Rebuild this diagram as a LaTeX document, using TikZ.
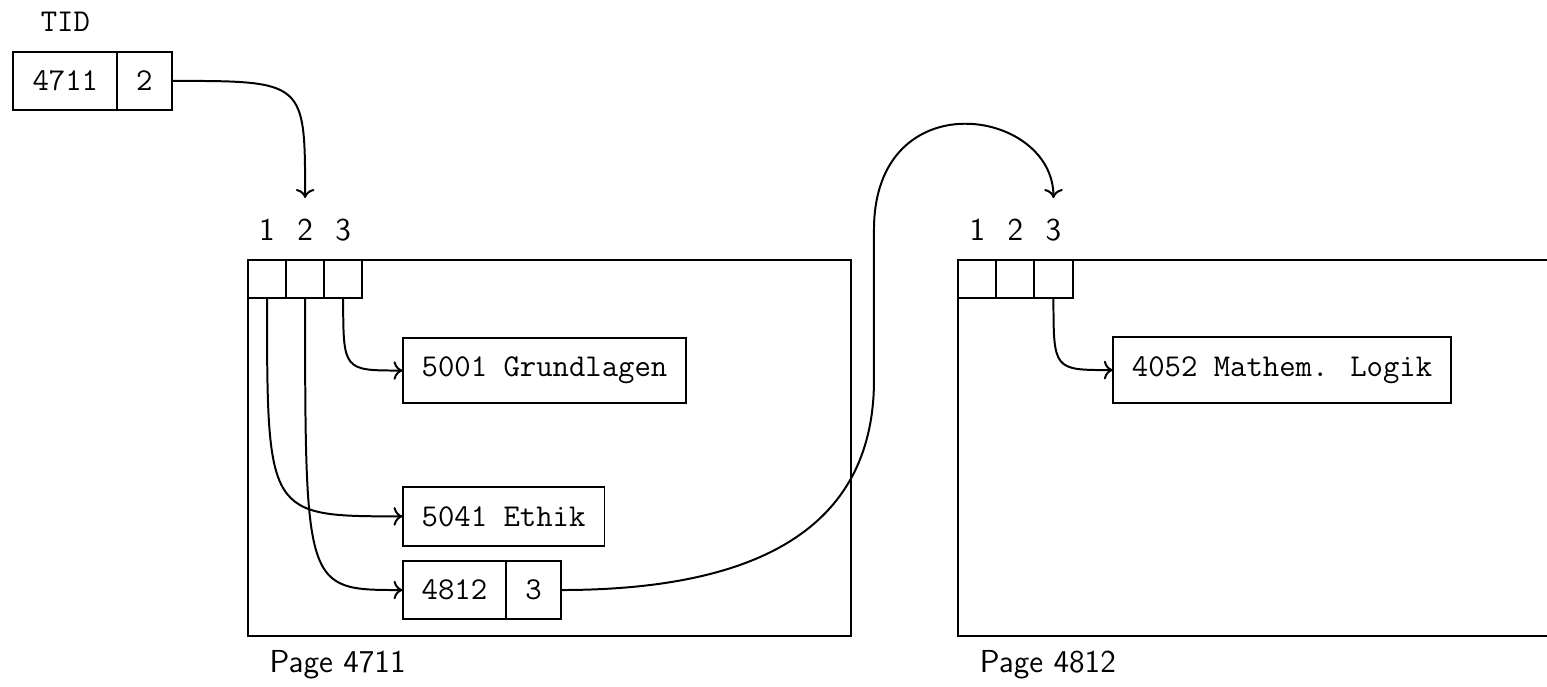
\documentclass[tikz,border=0pt]{standalone}
\usetikzlibrary{arrows.meta}
\begin{document}
\begin{tikzpicture}[
  cell/.style={draw, line width=0.75pt, inner sep=7.2pt, outer sep=0pt, font=\fontsize{12}{14.4}\selectfont\ttfamily, anchor=west},
  slotbox/.style={draw, line width=0.75pt, minimum width=0.505cm, minimum height=0.505cm, inner sep=0pt, outer sep=0pt, anchor=north west},
  pagebox/.style={draw, line width=0.75pt, minimum width=8cm, minimum height=4.99cm, inner sep=0pt, outer sep=0pt, anchor=north west},
  lbl/.style={font=\fontsize{12}{14.4}\selectfont\sffamily, inner sep=0pt, anchor=base},
  ttlbl/.style={font=\fontsize{12}{14.4}\selectfont\ttfamily, inner sep=0pt, anchor=base},
  link/.style={-{To[length=3.4pt,width=7pt]}, line width=0.75pt},
]
\useasboundingbox (-3.289,-5.650) rectangle (17.228,3.448);

% pages
\node[pagebox] (p1) at (0,0) {};
\node[pagebox] (p2) at (9.42,0) {};

% slot arrays
\node[slotbox] (a1) at (p1.north west) {};
\node[slotbox] (a2) at (a1.north east) {};
\node[slotbox] (a3) at (a2.north east) {};
\node[slotbox] (b1) at (p2.north west) {};
\node[slotbox] (b2) at (b1.north east) {};
\node[slotbox] (b3) at (b2.north east) {};

\node[lbl] (la1) at ([yshift=0.265cm]a1.north) {1};
\node[lbl] (la2) at ([yshift=0.265cm]a2.north) {2};
\node[lbl] (la3) at ([yshift=0.265cm]a3.north) {3};
\node[lbl] (lb1) at ([yshift=0.265cm]b1.north) {1};
\node[lbl] (lb2) at ([yshift=0.265cm]b2.north) {2};
\node[lbl] (lb3) at ([yshift=0.265cm]b3.north) {3};

% TID
\node[cell] (t1) at (-3.11,2.375) {4711};
\node[cell] (t2) at (t1.east) {2};
\node[ttlbl] (tid) at ([yshift=0.266cm]t1.north) {TID};

% records
\node[cell] (g) at (2.05,-1.466) {5001 Grundlagen};
\node[cell] (e) at (2.05,-3.40) {5041 Ethik};
\node[cell] (c1) at (2.05,-4.377) {4812};
\node[cell] (c2) at (c1.east) {3};
\node[cell] (m) at (11.47,-1.46) {4052 Mathem. Logik};

% page labels
\node[lbl, anchor=base west] (pl1) at (0.28,-5.477) {Page 4711};
\node[lbl, anchor=base west] (pl2) at (9.70,-5.477) {Page 4812};

% connectors
\coordinate (in1) at ([yshift=0.822cm]a2.north);
\coordinate (in2) at ([yshift=0.822cm]b3.north);
\draw[link] (t2.east) .. controls (t2.east -| in1) .. (in1);
\draw[link] (a3.south) .. controls (a3.south |- g.west) .. (g.west);
\draw[link] (a1.south) .. controls (a1.south |- e.west) .. (e.west);
\draw[link] (a2.south) .. controls (a2.south |- c1.west) .. (c1.west);
\draw[link] (b3.south) .. controls (b3.south |- m.west) .. (m.west);

\coordinate (k1) at (6.923,-4.377);
\coordinate (k2) at (8.302,-3.448);
\coordinate (k3) at (8.302,-1.592);
\coordinate (k4) at (8.302,0.398);
\coordinate (k5) at (8.302,2.387);
\coordinate (k6) at ([yshift=1.194cm]in2);
\draw[link] (c2.east) .. controls (k1) and (k2) .. (k3) -- (k4) .. controls (k5) and (k6) .. (in2);
\end{tikzpicture}
\end{document}
